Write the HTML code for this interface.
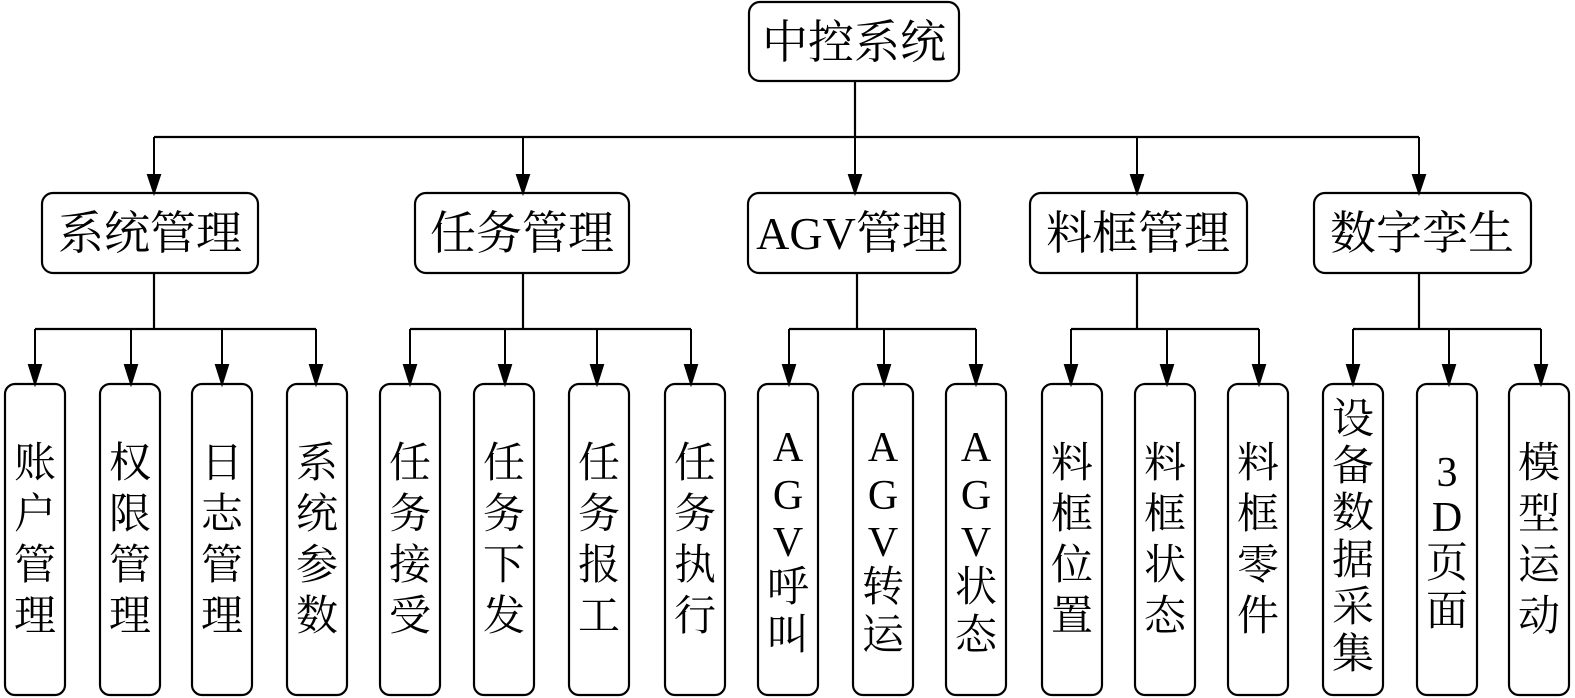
<!DOCTYPE html>
<html><head><meta charset="utf-8"><style>
html,body{margin:0;padding:0;background:#fff;}
svg{display:block;}
text{font-family:"Liberation Serif","Noto Serif CJK SC",serif;fill:#000;}
</style></head><body>
<svg width="1575" height="698" viewBox="0 0 1575 698" xmlns="http://www.w3.org/2000/svg">
<defs><marker id="a" markerWidth="12" markerHeight="20" refX="6" refY="18" orient="auto" markerUnits="userSpaceOnUse"><path d="M0,0 L12,0 L6,19 Z" fill="#000" transform="rotate(-90 6 9.5) translate(0,0)"/></marker></defs>
<g fill="none" stroke="#000" stroke-width="2.2">
<rect x="749" y="2" width="210" height="79" rx="11"/>
<rect x="42" y="193" width="216" height="80" rx="11"/>
<rect x="415" y="193" width="214" height="80" rx="11"/>
<rect x="748" y="193" width="212" height="80" rx="11"/>
<rect x="1030" y="193" width="217" height="80" rx="11"/>
<rect x="1314" y="193" width="217" height="80" rx="11"/>
<line x1="855" y1="81" x2="855" y2="137"/>
<line x1="154" y1="137" x2="1419" y2="137"/>
<line x1="154" y1="273" x2="154" y2="329"/><line x1="35" y1="329" x2="316" y2="329"/>
<line x1="523" y1="273" x2="523" y2="329"/><line x1="410" y1="329" x2="691" y2="329"/>
<line x1="857" y1="273" x2="857" y2="329"/><line x1="789" y1="329" x2="976" y2="329"/>
<line x1="1137" y1="273" x2="1137" y2="329"/><line x1="1071" y1="329" x2="1259" y2="329"/>
<line x1="1419" y1="273" x2="1419" y2="329"/><line x1="1353" y1="329" x2="1541" y2="329"/>
<g id="leaves">
<rect x="5" y="384" width="60" height="311" rx="10"/><rect x="100" y="384" width="60" height="311" rx="10"/>
<rect x="192" y="384" width="60" height="311" rx="10"/><rect x="287" y="384" width="60" height="311" rx="10"/>
<rect x="380" y="384" width="60" height="311" rx="10"/><rect x="474" y="384" width="60" height="311" rx="10"/>
<rect x="569" y="384" width="60" height="311" rx="10"/><rect x="665" y="384" width="60" height="311" rx="10"/>
<rect x="758" y="384" width="60" height="311" rx="10"/><rect x="853" y="384" width="60" height="311" rx="10"/>
<rect x="946" y="384" width="60" height="311" rx="10"/><rect x="1042" y="384" width="60" height="311" rx="10"/>
<rect x="1135" y="384" width="60" height="311" rx="10"/><rect x="1228" y="384" width="60" height="311" rx="10"/>
<rect x="1323" y="384" width="60" height="311" rx="10"/><rect x="1417" y="384" width="60" height="311" rx="10"/>
<rect x="1509" y="384" width="60" height="311" rx="10"/>
</g>
</g>
<g stroke="#000" stroke-width="2.2" fill="#000">
<!-- arrows level2 -->
<g id="arr">
</g>
</g>
<g fill="#000" stroke="#000" stroke-width="2">
<path d="M154,137V178" /><path d="M148,175L160,175L154,193Z"/>
<path d="M523,137V178"/><path d="M517,175L529,175L523,193Z"/>
<path d="M855,137V178"/><path d="M849,175L861,175L855,193Z"/>
<path d="M1137,137V178"/><path d="M1131,175L1143,175L1137,193Z"/>
<path d="M1419,137V178"/><path d="M1413,175L1425,175L1419,193Z"/>
<path d="M35,329V368"/><path d="M29,365L41,365L35,384Z"/>
<path d="M131,329V368"/><path d="M125,365L137,365L131,384Z"/>
<path d="M222,329V368"/><path d="M216,365L228,365L222,384Z"/>
<path d="M316,329V368"/><path d="M310,365L322,365L316,384Z"/>
<path d="M410,329V368"/><path d="M404,365L416,365L410,384Z"/>
<path d="M505,329V368"/><path d="M499,365L511,365L505,384Z"/>
<path d="M597,329V368"/><path d="M591,365L603,365L597,384Z"/>
<path d="M691,329V368"/><path d="M685,365L697,365L691,384Z"/>
<path d="M789,329V368"/><path d="M783,365L795,365L789,384Z"/>
<path d="M884,329V368"/><path d="M878,365L890,365L884,384Z"/>
<path d="M976,329V368"/><path d="M970,365L982,365L976,384Z"/>
<path d="M1071,329V368"/><path d="M1065,365L1077,365L1071,384Z"/>
<path d="M1167,329V368"/><path d="M1161,365L1173,365L1167,384Z"/>
<path d="M1259,329V368"/><path d="M1253,365L1265,365L1259,384Z"/>
<path d="M1353,329V368"/><path d="M1347,365L1359,365L1353,384Z"/>
<path d="M1449,329V368"/><path d="M1443,365L1455,365L1449,384Z"/>
<path d="M1541,329V368"/><path d="M1535,365L1547,365L1541,384Z"/>
</g>
<g font-size="46" text-anchor="middle">
<text x="854" y="58">中控系统</text>
<text x="150" y="249">系统管理</text>
<text x="522" y="249">任务管理</text>
<text x="852" y="249">AGV管理</text>
<text x="1138" y="249">料框管理</text>
<text x="1422" y="249">数字孪生</text>
</g>
<g font-size="42" text-anchor="middle" dominant-baseline="central">
<g><text x="35" y="464">账</text><text x="35" y="515">户</text><text x="35" y="566">管</text><text x="35" y="617">理</text></g>
<g><text x="130" y="464">权</text><text x="130" y="515">限</text><text x="130" y="566">管</text><text x="130" y="617">理</text></g>
<g><text x="222" y="464">日</text><text x="222" y="515">志</text><text x="222" y="566">管</text><text x="222" y="617">理</text></g>
<g><text x="317" y="464">系</text><text x="317" y="515">统</text><text x="317" y="566">参</text><text x="317" y="617">数</text></g>
<g><text x="410" y="464">任</text><text x="410" y="515">务</text><text x="410" y="566">接</text><text x="410" y="617">受</text></g>
<g><text x="504" y="464">任</text><text x="504" y="515">务</text><text x="504" y="566">下</text><text x="504" y="617">发</text></g>
<g><text x="599" y="464">任</text><text x="599" y="515">务</text><text x="599" y="566">报</text><text x="599" y="617">工</text></g>
<g><text x="695" y="464">任</text><text x="695" y="515">务</text><text x="695" y="566">执</text><text x="695" y="617">行</text></g>
<g><text x="788" y="448">A</text><text x="788" y="496">G</text><text x="788" y="543">V</text><text x="788" y="588">呼</text><text x="788" y="636">叫</text></g>
<g><text x="883" y="448">A</text><text x="883" y="496">G</text><text x="883" y="543">V</text><text x="883" y="588">转</text><text x="883" y="636">运</text></g>
<g><text x="976" y="448">A</text><text x="976" y="496">G</text><text x="976" y="543">V</text><text x="976" y="588">状</text><text x="976" y="636">态</text></g>
<g><text x="1072" y="464">料</text><text x="1072" y="515">框</text><text x="1072" y="566">位</text><text x="1072" y="617">置</text></g>
<g><text x="1165" y="464">料</text><text x="1165" y="515">框</text><text x="1165" y="566">状</text><text x="1165" y="617">态</text></g>
<g><text x="1258" y="464">料</text><text x="1258" y="515">框</text><text x="1258" y="566">零</text><text x="1258" y="617">件</text></g>
<g><text x="1353" y="420">设</text><text x="1353" y="467">备</text><text x="1353" y="514">数</text><text x="1353" y="561">据</text><text x="1353" y="608">采</text><text x="1353" y="655">集</text></g>
<g><text x="1447" y="473">3</text><text x="1447" y="518">D</text><text x="1447" y="564">页</text><text x="1447" y="612">面</text></g>
<g><text x="1539" y="464">模</text><text x="1539" y="515">型</text><text x="1539" y="566">运</text><text x="1539" y="617">动</text></g>
</g>
</svg>
</body></html>
